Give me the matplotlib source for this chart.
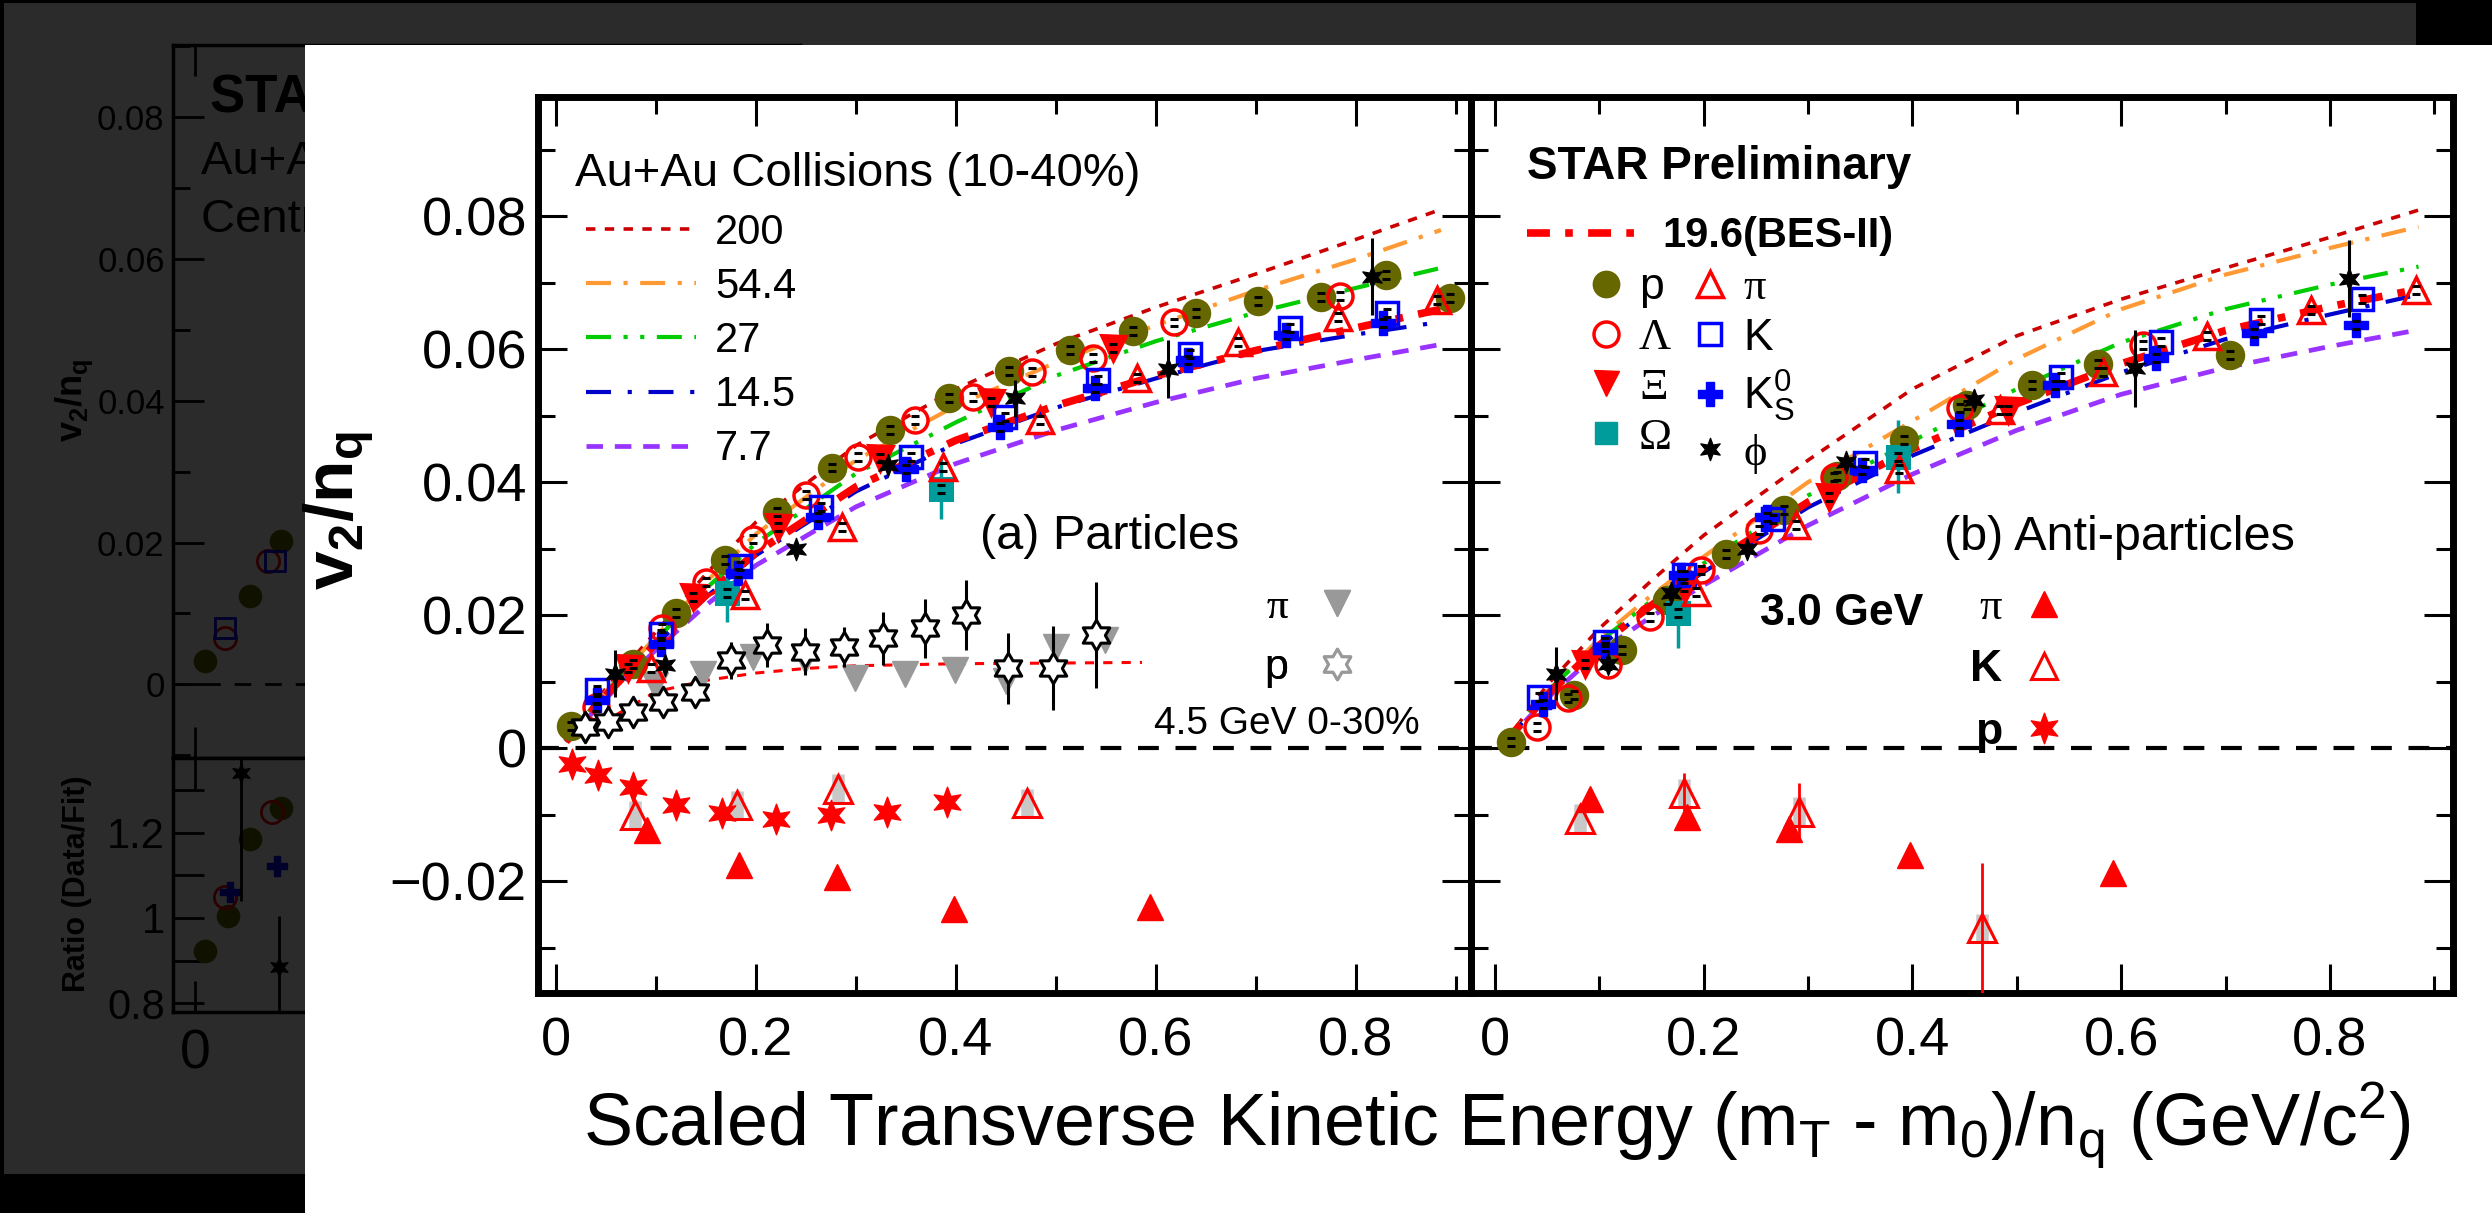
import matplotlib
matplotlib.use('Agg')
import matplotlib.pyplot as plt
from matplotlib.lines import Line2D
from matplotlib.patches import Rectangle
from matplotlib.path import Path
from matplotlib.ticker import MultipleLocator, FuncFormatter

plt.rcParams['font.family'] = ['Liberation Sans', 'DejaVu Sans']
plt.rcParams['mathtext.fontset'] = 'custom'
plt.rcParams['mathtext.rm'] = 'Liberation Sans'
plt.rcParams['mathtext.it'] = 'Liberation Sans'
plt.rcParams['mathtext.bf'] = 'Liberation Sans:bold'

W, H = 2492, 1213

# ---------------- data: particles (left panel) ----------------
p_x = [0.015, 0.077, 0.120, 0.169, 0.221, 0.276, 0.334, 0.393, 0.453, 0.514, 0.577, 0.640, 0.702, 0.765, 0.830, 0.894]
p_y = [0.0033, 0.0127, 0.0203, 0.0283, 0.0355, 0.0422, 0.0478, 0.0527, 0.0567, 0.0598, 0.0627, 0.0654, 0.0673, 0.0679, 0.0711, 0.0677]
lam_x = [0.040, 0.106, 0.150, 0.197, 0.250, 0.302, 0.359, 0.417, 0.476, 0.537, 0.618, 0.784]
lam_y = [0.0062, 0.0180, 0.0250, 0.0315, 0.0380, 0.0438, 0.0493, 0.0528, 0.0566, 0.0586, 0.0640, 0.0680]
xi_x = [0.072, 0.137, 0.222, 0.324, 0.435, 0.557]
xi_y = [0.0120, 0.0228, 0.0333, 0.0436, 0.0521, 0.0601]
om_x = [0.171, 0.385]
om_y = [0.0233, 0.0390]
om_e = [0.0043, 0.0045]
k_x = [0.041, 0.105, 0.184, 0.265, 0.355, 0.449, 0.542, 0.634, 0.734, 0.831]
k_y = [0.0087, 0.0171, 0.0274, 0.0363, 0.0438, 0.0498, 0.0553, 0.0592, 0.0631, 0.0654]
k0_x = [0.041, 0.105, 0.182, 0.262, 0.350, 0.444, 0.539, 0.632, 0.730, 0.827]
k0_y = [0.0072, 0.0157, 0.0263, 0.0348, 0.0420, 0.0483, 0.0541, 0.0583, 0.0621, 0.0639]
pi_x = [0.095, 0.189, 0.286, 0.387, 0.484, 0.581, 0.682, 0.782, 0.881]
pi_y = [0.0120, 0.0230, 0.0333, 0.0423, 0.0493, 0.0556, 0.0611, 0.0649, 0.0674]
phi_x = [0.059, 0.109, 0.240, 0.332, 0.459, 0.612, 0.816]
phi_y = [0.0112, 0.0125, 0.0300, 0.0426, 0.0526, 0.0570, 0.0709]
phi_e = [0.0035, 0.0010, 0.0010, 0.0010, 0.0028, 0.0043, 0.0058]

# ---------------- data: anti-particles (right panel) ----------------
ap_x = [0.015, 0.076, 0.122, 0.165, 0.221, 0.277, 0.328, 0.392, 0.452, 0.515, 0.578, 0.704]
ap_y = [0.0010, 0.0080, 0.0147, 0.0223, 0.0292, 0.0358, 0.0409, 0.0464, 0.0516, 0.0546, 0.0578, 0.0591]
alam_x = [0.040, 0.070, 0.108, 0.149, 0.197, 0.253, 0.325, 0.446, 0.621]
alam_y = [0.0032, 0.0075, 0.0125, 0.0197, 0.0268, 0.0328, 0.0407, 0.0511, 0.0606]
axi_x = [0.086, 0.181, 0.320, 0.492]
axi_y = [0.0127, 0.0243, 0.0378, 0.0508]
aom_x = [0.175, 0.386]
aom_y = [0.0203, 0.0438]
aom_e = [0.0053, 0.0055]
ak_x = [0.042, 0.105, 0.181, 0.266, 0.355, 0.542, 0.638, 0.734, 0.831]
ak_y = [0.0077, 0.0160, 0.0260, 0.0345, 0.0429, 0.0558, 0.0611, 0.0644, 0.0676]
ak0_x = [0.046, 0.105, 0.178, 0.261, 0.352, 0.445, 0.537, 0.633, 0.727, 0.825]
ak0_y = [0.0067, 0.0152, 0.0260, 0.0348, 0.0418, 0.0488, 0.0546, 0.0586, 0.0624, 0.0636]
api_x = [0.193, 0.288, 0.387, 0.484, 0.583, 0.682, 0.782, 0.883]
api_y = [0.0235, 0.0335, 0.0420, 0.0508, 0.0566, 0.0619, 0.0659, 0.0689]
aphi_x = [0.058, 0.108, 0.169, 0.241, 0.336, 0.459, 0.613, 0.818]
aphi_y = [0.0112, 0.0127, 0.0233, 0.0300, 0.0431, 0.0523, 0.0571, 0.0706]
aphi_e = [0.0040, 0.0010, 0.0010, 0.0010, 0.0010, 0.0015, 0.0058, 0.0058]

# ---------------- data: 4.5 GeV 0-30% (left) ----------------
s45_x = [0.029, 0.052, 0.077, 0.107, 0.139, 0.175, 0.211, 0.249, 0.288, 0.327, 0.369, 0.410, 0.452, 0.497, 0.540]
s45_y = [0.0032, 0.0040, 0.0055, 0.0070, 0.0085, 0.0132, 0.0155, 0.0145, 0.0152, 0.0165, 0.0180, 0.0200, 0.0120, 0.0120, 0.0170]
s45_e = [0.0010, 0.0012, 0.0015, 0.0018, 0.0020, 0.0028, 0.0033, 0.0035, 0.0030, 0.0040, 0.0045, 0.0053, 0.0053, 0.0063, 0.0080]
pi45_x = [0.099, 0.147, 0.197, 0.249, 0.299, 0.349, 0.399, 0.450, 0.500, 0.549]
pi45_y = [0.0095, 0.0112, 0.0137, 0.0132, 0.0106, 0.0112, 0.0118, 0.0101, 0.0152, 0.0162]
fit45_x = [0.03, 0.06, 0.10, 0.15, 0.20, 0.25, 0.30, 0.40, 0.50, 0.586]
fit45_y = [0.0020, 0.0050, 0.0085, 0.0102, 0.0113, 0.0120, 0.0124, 0.0127, 0.0128, 0.0129]

# ---------------- data: 3.0 GeV ----------------
s3_x = [0.016, 0.042, 0.077, 0.120, 0.166, 0.220, 0.275, 0.331, 0.391]
s3_y = [-0.0023, -0.0041, -0.0058, -0.0086, -0.0098, -0.0106, -0.0101, -0.0096, -0.0081]
pi3_x = [0.091, 0.183, 0.281, 0.398, 0.594]
pi3_y = [-0.0123, -0.0176, -0.0194, -0.0241, -0.0238]
k3_x = [0.079, 0.181, 0.282, 0.471]
k3_y = [-0.0101, -0.0086, -0.0061, -0.0083]
api3_x = [0.091, 0.184, 0.282, 0.398, 0.592]
api3_y = [-0.0076, -0.0103, -0.0121, -0.0161, -0.0188]
ak3_x = [0.081, 0.181, 0.291, 0.467]
ak3_y = [-0.0106, -0.0068, -0.0096, -0.0271]
ak3_e = [0.0, 0.0030, 0.0044, 0.0098]

# ---------------- NCQ fits per energy ----------------
fit_x = [0.01, 0.05, 0.10, 0.15, 0.20, 0.30, 0.40, 0.50, 0.60, 0.70, 0.80, 0.885]
fit_labels = ['200', '54.4', '27', '14.5', '7.7']
fitL_200 = [0.001, 0.0090, 0.0175, 0.0262, 0.0340, 0.0455, 0.0540, 0.0608, 0.0663, 0.0713, 0.0765, 0.0810]
fitL_54 = [0.001, 0.0085, 0.0168, 0.0250, 0.0322, 0.0433, 0.0515, 0.0580, 0.0636, 0.0688, 0.0735, 0.0779]
fitL_27 = [0.001, 0.0085, 0.0163, 0.0240, 0.0308, 0.0413, 0.0490, 0.0560, 0.0612, 0.0655, 0.0692, 0.0722]
fitL_196 = [0.001, 0.0080, 0.0158, 0.0230, 0.0294, 0.0393, 0.0463, 0.0515, 0.0560, 0.0598, 0.0632, 0.0660]
fitL_145 = [0.001, 0.0080, 0.0156, 0.0227, 0.0290, 0.0386, 0.0458, 0.0512, 0.0556, 0.0597, 0.0622, 0.0641]
fitL_77 = [0.001, 0.0075, 0.0148, 0.0215, 0.0275, 0.0363, 0.0428, 0.0478, 0.0520, 0.0556, 0.0584, 0.0607]
fitR_200 = [0.001, 0.0095, 0.0180, 0.0252, 0.0320, 0.0433, 0.0540, 0.0620, 0.0675, 0.0722, 0.0768, 0.0809]
fitR_54 = [0.001, 0.0085, 0.0165, 0.0230, 0.0288, 0.0400, 0.0492, 0.0585, 0.0660, 0.0712, 0.0752, 0.0784]
fitR_27 = [0.001, 0.0085, 0.0160, 0.0222, 0.0278, 0.0380, 0.0462, 0.0540, 0.0610, 0.0660, 0.0697, 0.0724]
fitR_196 = [0.001, 0.0080, 0.0155, 0.0215, 0.0270, 0.0370, 0.0450, 0.0518, 0.0578, 0.0628, 0.0664, 0.0690]
fitR_145 = [0.001, 0.0080, 0.0153, 0.0212, 0.0265, 0.0362, 0.0440, 0.0505, 0.0565, 0.0615, 0.0652, 0.0682]
fitR_77 = [0.001, 0.0075, 0.0145, 0.0198, 0.0245, 0.0335, 0.0412, 0.0478, 0.0532, 0.0572, 0.0604, 0.0629]

# ---------------- ghost (dimmed slide behind) ----------------
g_yticks = [0, 0.02, 0.04, 0.06, 0.08]
g_rticks = [0.8, 1.0, 1.2]
gp_x = [0.018, 0.100, 0.156]
gp_y = [0.0033, 0.0124, 0.0202]
gl_x = [0.055, 0.133]
gl_y = [0.0065, 0.0174]
gk_x = [0.055, 0.145]
gk_y = [0.0080, 0.0174]
gr_p_x = [0.018, 0.060, 0.100, 0.156]
gr_p_y = [0.922, 1.005, 1.186, 1.259]
gr_l_x = [0.055, 0.140]
gr_l_y = [1.05, 1.25]
gr_k0_x = [0.064, 0.149]
gr_k0_y = [1.06, 1.122]
gr_phi_x = [0.084, 0.153]
gr_phi_y = [1.34, 0.885]
gr_phi_e = [0.30, 0.12]


def fbox(x0, y0, x1, y1):
    return [x0 / W, 1 - y1 / H, (x1 - x0) / W, (y1 - y0) / H]


OLIVE = '#676700'
TEAL = '#009b9b'
RED = '#ff0000'
BLUE = '#0000ff'
SERIF = ['Liberation Serif', 'DejaVu Serif']
star6 = Path.unit_regular_star(6, 0.45)
david = Path.unit_regular_star(6, 0.58)

fig = plt.figure(figsize=(W / 100, H / 100), dpi=100, facecolor='black')

# slide background, ghost plot, dim overlay, white panel
fig.add_artist(Rectangle((4 / W, 1 - 1174 / H), 2412 / W, 1171 / H, transform=fig.transFigure,
                         facecolor='white', edgecolor='none', zorder=-1))
gU = fig.add_axes(fbox(173, 45, 800, 758), zorder=0)
gR = fig.add_axes(fbox(173, 758, 800, 1012), zorder=0)
for g in (gU, gR):
    g.set_xlim(-0.04, 1.1)
    for s in g.spines.values():
        s.set_linewidth(2.5)
    g.xaxis.set_major_locator(MultipleLocator(0.5))
    g.tick_params(direction='in', which='both', width=2, length=22, top=True)
gU.set_ylim(-0.0104, 0.0902)
gU.set_yticks(g_yticks)
gU.yaxis.set_minor_locator(MultipleLocator(0.01))
gU.tick_params(which='minor', length=12)
gU.yaxis.set_major_formatter(FuncFormatter(lambda v, _: '0' if abs(v) < 1e-9 else f'{v:.2f}'))
gU.tick_params(labelsize=25, labelbottom=False, pad=6)
gU.axhline(0, color='black', lw=2, ls=(0, (6, 5)))
gR.set_ylim(0.779, 1.376)
gR.set_yticks(g_rticks)
gR.yaxis.set_minor_locator(MultipleLocator(0.1))
gR.yaxis.set_major_formatter(FuncFormatter(lambda v, _: '1' if abs(v - 1) < 1e-9 else f'{v:.1f}'))
gR.xaxis.set_major_formatter(FuncFormatter(lambda v, _: '0' if abs(v) < 1e-9 else f'{v:.1f}'))
gR.tick_params(axis='y', labelsize=30, pad=6)
gR.tick_params(axis='x', labelsize=40, pad=12)
gU.plot(gp_x, gp_y, 'o', ms=16, color=OLIVE)
gU.plot(gl_x, gl_y, 'o', ms=16, mfc='none', mec=RED, mew=2)
gU.plot(gk_x, gk_y, 's', ms=14, mfc='none', mec=BLUE, mew=2)
gR.plot(gr_p_x, gr_p_y, 'o', ms=16, color=OLIVE)
gR.plot(gr_l_x, gr_l_y, 'o', ms=16, mfc='none', mec=RED, mew=2)
gR.plot(gr_k0_x, gr_k0_y, 'P', ms=15, color=BLUE)
gR.errorbar(gr_phi_x, gr_phi_y, yerr=gr_phi_e, fmt='none', ecolor='black', elinewidth=2)
gR.plot(gr_phi_x, gr_phi_y, marker=star6, ls='none', ms=14, color='black')
fig.text(210 / W, 1 - 112 / H, 'STAR Preliminary', fontsize=38, fontweight='bold', zorder=0.5)
fig.text(201 / W, 1 - 174 / H, 'Au+Au Collisions', fontsize=34, zorder=0.5)
fig.text(201 / W, 1 - 232 / H, 'Centrality: 10-40%', fontsize=34, zorder=0.5)
fig.text(74 / W, 1 - 400 / H, r'$\mathbf{v}_{\mathbf{2}}\mathbf{/n}_{\mathbf{q}}$', fontsize=26,
         rotation=90, ha='center', va='center', zorder=0.5)
fig.text(77 / W, 1 - 884 / H, 'Ratio (Data/Fit)', fontsize=22, fontweight='bold',
         rotation=90, ha='center', va='center', zorder=0.5)
fig.add_artist(Rectangle((4 / W, 1 - 1174 / H), 2412 / W, 1171 / H, transform=fig.transFigure,
                         facecolor='black', alpha=0.83, edgecolor='none', zorder=1))
fig.add_artist(Rectangle((305 / W, 0), (W - 305) / W, 1 - 45 / H, transform=fig.transFigure,
                         facecolor='white', edgecolor='none', zorder=2))

# ---------------- main panels ----------------
axL = fig.add_axes(fbox(538, 97, 1471, 993), zorder=3)
axR = fig.add_axes(fbox(1471, 97, 2453, 993), zorder=3)
axL.set_xlim(-0.018, 0.915)
axR.set_xlim(-0.023, 0.918)
for ax in (axL, axR):
    ax.set_ylim(-0.0368, 0.0979)
    ax.set_facecolor('none')
    for s in ax.spines.values():
        s.set_linewidth(5)
    ax.xaxis.set_major_locator(MultipleLocator(0.2))
    ax.xaxis.set_minor_locator(MultipleLocator(0.1))
    ax.yaxis.set_major_locator(MultipleLocator(0.02))
    ax.yaxis.set_minor_locator(MultipleLocator(0.01))
    ax.tick_params(which='both', direction='in', top=True, right=True, width=2.2, labelsize=39)
    ax.tick_params(which='major', length=21)
    ax.tick_params(which='minor', length=12)
    ax.tick_params(axis='x', pad=17)
    ax.tick_params(axis='y', pad=8)
    ax.xaxis.set_major_formatter(FuncFormatter(lambda v, _: '0' if abs(v) < 1e-9 else f'{v:.1f}'))
    ax.yaxis.set_major_formatter(FuncFormatter(
        lambda v, _: '0' if abs(v) < 1e-9 else f'{v:.2f}'.replace('-', '\u2212')))
    ax.axhline(0, color='black', lw=3, ls=(0, (5, 4)), zorder=1)
axR.tick_params(labelleft=False)

fit_styles = [('#cc0000', (0, (2.6, 2.6)), 2.6),
              ('#ff9933', (0, (6, 3, 1, 3)), 3.0),
              ('#00cc00', (0, (6, 3, 1, 3, 1, 3)), 3.0),
              ('#0000cc', (0, (6, 4, 1, 4)), 3.0),
              ('#9933ff', (0, (3.5, 2.5)), 3.4)]
bes_style = (RED, (0, (3, 2, 1, 2)), 5.5)


def draw_fits(ax, curves, bes):
    for yv, (c, ls, lw) in zip(curves, fit_styles):
        ax.plot(fit_x, yv, color=c, ls=ls, lw=lw, zorder=2)
    ax.plot(fit_x, bes, color=bes_style[0], ls=bes_style[1], lw=bes_style[2], zorder=2.5)


def pts(ax, x, y, marker, ms, fc, ec, mew=2.2, z=5, caps=True):
    ax.plot(x, y, ls='none', marker=marker, ms=ms, mfc=fc, mec=ec, mew=mew, zorder=z)
    if caps:
        ax.errorbar(x, y, yerr=0.0006, fmt='none', ecolor='black', elinewidth=0,
                    capsize=3, capthick=2.2, zorder=z + 0.1)


draw_fits(axL, [fitL_200, fitL_54, fitL_27, fitL_145, fitL_77], fitL_196)
draw_fits(axR, [fitR_200, fitR_54, fitR_27, fitR_145, fitR_77], fitR_196)

# particles
axL.errorbar(om_x, om_y, yerr=om_e, fmt='none', ecolor=TEAL, elinewidth=2.5, zorder=4)
pts(axL, p_x, p_y, 'o', 19, OLIVE, OLIVE)
pts(axL, lam_x, lam_y, 'o', 18, 'none', RED, 2.5)
pts(axL, xi_x, xi_y, 'v', 18, RED, RED)
pts(axL, om_x, om_y, 's', 16, TEAL, TEAL)
pts(axL, k_x, k_y, 's', 16, 'none', BLUE, 2.5)
pts(axL, k0_x, k0_y, 'P', 17, BLUE, BLUE, 1)
pts(axL, pi_x, pi_y, '^', 19, 'none', RED, 2.5)
axL.errorbar(phi_x, phi_y, yerr=phi_e, fmt='none', ecolor='black', elinewidth=2.2, zorder=5)
pts(axL, phi_x, phi_y, star6, 16, 'black', 'black', 1, z=6, caps=False)

# anti-particles
axR.errorbar(aom_x, aom_y, yerr=aom_e, fmt='none', ecolor=TEAL, elinewidth=2.5, zorder=4)
pts(axR, ap_x, ap_y, 'o', 19, OLIVE, OLIVE)
pts(axR, alam_x, alam_y, 'o', 18, 'none', RED, 2.5)
pts(axR, axi_x, axi_y, 'v', 18, RED, RED)
pts(axR, aom_x, aom_y, 's', 16, TEAL, TEAL)
pts(axR, ak_x, ak_y, 's', 16, 'none', BLUE, 2.5)
pts(axR, ak0_x, ak0_y, 'P', 17, BLUE, BLUE, 1)
pts(axR, api_x, api_y, '^', 19, 'none', RED, 2.5)
axR.errorbar(aphi_x, aphi_y, yerr=aphi_e, fmt='none', ecolor='black', elinewidth=2.2, zorder=5)
pts(axR, aphi_x, aphi_y, star6, 16, 'black', 'black', 1, z=6, caps=False)

# 4.5 GeV
axL.plot(fit45_x, fit45_y, color=RED, ls=(0, (3, 3)), lw=2.2, zorder=3)
pts(axL, pi45_x, pi45_y, 'v', 19, '#999999', '#999999', 1, z=4, caps=False)
axL.errorbar(s45_x, s45_y, yerr=s45_e, fmt='none', ecolor='black', elinewidth=2.2, zorder=4.5)
pts(axL, s45_x, s45_y, david, 22, 'white', 'black', 2.2, z=5, caps=False)

# 3.0 GeV
axL.errorbar(k3_x, k3_y, yerr=0.0022, fmt='none', ecolor='#c8c8c8', elinewidth=9, zorder=4)
pts(axL, k3_x, k3_y, '^', 20, 'none', RED, 2.2, caps=False)
pts(axL, pi3_x, pi3_y, '^', 19, RED, RED, 1, caps=False)
pts(axL, s3_x, s3_y, star6, 22, RED, RED, 1, caps=False)
axR.errorbar(ak3_x, ak3_y, yerr=0.0022, fmt='none', ecolor='#c8c8c8', elinewidth=9, zorder=4)
axR.errorbar(ak3_x, ak3_y, yerr=ak3_e, fmt='none', ecolor=RED, elinewidth=2, zorder=4.2)
pts(axR, ak3_x, ak3_y, '^', 20, 'none', RED, 2.2, caps=False)
pts(axR, api3_x, api3_y, '^', 19, RED, RED, 1, caps=False)

# ---------------- legends & labels ----------------
axL.text(0.0397, 0.9007, 'Au+Au Collisions (10-40%)', transform=axL.transAxes,
         ha='left', va='baseline', fontsize=34)
fit_handles = [Line2D([], [], color=c, ls=ls, lw=lw) for c, ls, lw in fit_styles]
legF = axL.legend(fit_handles, fit_labels, loc='upper left',
                  bbox_to_anchor=(0.0514, 0.871), frameon=False, fontsize=30,
                  handlelength=2.65, handletextpad=0.45, labelspacing=0.34, borderpad=0,
                  borderaxespad=0)
axL.add_artist(legF)

leg45 = axL.legend([Line2D([], [], ls='none', marker='v', ms=19, color='#999999'),
                    Line2D([], [], ls='none', marker=david, ms=22, mfc='white', mec='#999999', mew=2.2)],
                   ['\u03c0', 'p'], loc='upper left', bbox_to_anchor=(0.778, 0.452), frameon=False,
                   fontsize=31, markerfirst=False, handlelength=1.0, handletextpad=0.65,
                   labelspacing=0.48, borderpad=0, borderaxespad=0)
leg45.get_texts()[0].set_family(SERIF)
axL.add_artist(leg45)
axL.text(0.945, 0.300, '4.5 GeV 0-30%', transform=axL.transAxes, ha='right', va='center', fontsize=28)
axL.text(0.613, 0.509, '(a) Particles', transform=axL.transAxes, ha='center', va='center', fontsize=35)

legS = axR.legend([Line2D([], [], color=bes_style[0], ls=bes_style[1], lw=bes_style[2])],
                  ['19.6(BES-II)'], title='STAR Preliminary', loc='upper left',
                  bbox_to_anchor=(0.057, 0.946), frameon=False,
                  prop={'size': 30, 'weight': 'bold'},
                  title_fontproperties={'size': 33, 'weight': 'bold'}, labelspacing=0.65,
                  handlelength=2.7, handletextpad=0.55, borderpad=0, borderaxespad=0, alignment='left')
axR.add_artist(legS)

part_handles = [Line2D([], [], ls='none', marker='o', ms=19, color=OLIVE),
                Line2D([], [], ls='none', marker='o', ms=18, mfc='none', mec=RED, mew=2.5),
                Line2D([], [], ls='none', marker='v', ms=18, color=RED),
                Line2D([], [], ls='none', marker='s', ms=16, color=TEAL),
                Line2D([], [], ls='none', marker='^', ms=19, mfc='none', mec=RED, mew=2.5),
                Line2D([], [], ls='none', marker='s', ms=16, mfc='none', mec=BLUE, mew=2.5),
                Line2D([], [], ls='none', marker='P', ms=17, color=BLUE),
                Line2D([], [], ls='none', marker=star6, ms=16, color='black')]
part_labels = ['p', '\u039b', '\u039e', '\u03a9', '\u03c0', 'K', r'K$^{0}_{\rm S}$', '\u03d5']
legP = axR.legend(part_handles, part_labels, loc='upper left', bbox_to_anchor=(0.119, 0.810),
                  ncol=2, frameon=False, fontsize=32, handlelength=0.8, handletextpad=0.35,
                  columnspacing=0.45, labelspacing=0.22, borderpad=0, borderaxespad=0)
for t, lab in zip(legP.get_texts(), part_labels):
    if lab in ('\u039b', '\u039e', '\u03a9', '\u03c0', '\u03d5'):
        t.set_family(SERIF)
axR.add_artist(legP)

leg3 = axR.legend([Line2D([], [], ls='none', marker='^', ms=19, color=RED),
                   Line2D([], [], ls='none', marker='^', ms=19, mfc='none', mec=RED, mew=2.2),
                   Line2D([], [], ls='none', marker=star6, ms=22, color=RED)],
                  ['\u03c0', 'K', 'p'], loc='upper left', bbox_to_anchor=(0.508, 0.452),
                  frameon=False, prop={'size': 32, 'weight': 'bold'}, markerfirst=False,
                  handlelength=1.0, handletextpad=0.44, labelspacing=0.48, borderpad=0, borderaxespad=0)
leg3.get_texts()[0].set_family(SERIF)
leg3.get_texts()[0].set_weight('normal')
axR.text(0.4603, 0.424, '3.0 GeV', transform=axR.transAxes, ha='right', va='center',
         fontsize=32, fontweight='bold')
axR.text(0.66, 0.508, '(b) Anti-particles', transform=axR.transAxes, ha='center', va='center', fontsize=35)

fig.text(338 / W, 1 - 511 / H, r'$\mathbf{v}_{\mathbf{2}}\mathbf{/n}_{\mathbf{q}}$', fontsize=50,
         rotation=90, ha='center', va='center', zorder=5)
fig.text(1497 / W, 1 - 1147 / H,
         r'Scaled Transverse Kinetic Energy (m$_{\rm T}$ - m$_{0}$)/n$_{\rm q}$ (GeV/c$^{2}$)',
         ha='center', va='baseline', fontsize=53, zorder=5)

fig.savefig('out.png', dpi=100, facecolor='black')
